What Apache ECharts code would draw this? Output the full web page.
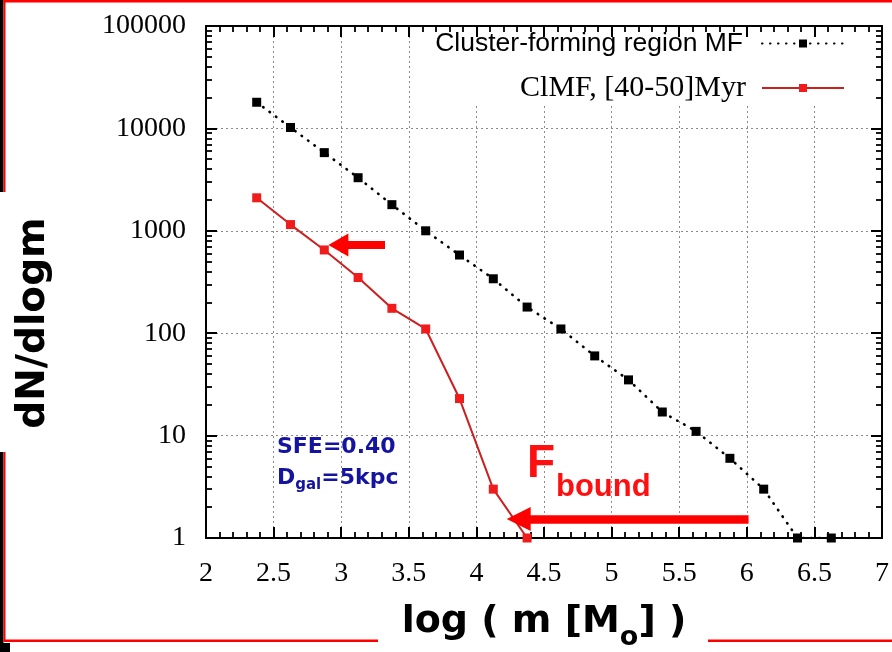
<!DOCTYPE html>
<html><head><meta charset="utf-8">
<script src="https://cdn.jsdelivr.net/npm/echarts@6/dist/echarts.min.js"></script>
<style>html,body{margin:0;padding:0;background:#fff}#c{width:892px;height:652px}</style>
</head><body><div id="c"></div>
<script>
// ---- data ----
const regionMass = [2.375, 2.625, 2.875, 3.125, 3.375, 3.625, 3.875, 4.125, 4.375, 4.625, 4.875, 5.125, 5.375, 5.625, 5.875, 6.125, 6.375, 6.625];
const regionMF   = [18000, 10200, 5800, 3300, 1800, 1000, 580, 340, 180, 110, 60, 35, 17, 11, 6, 3, 1, 1];
const clmfMass   = [2.375, 2.625, 2.875, 3.125, 3.375, 3.625, 3.875, 4.125, 4.375];
const clmfValues = [2100, 1150, 650, 350, 175, 110, 23, 3, 1];
const seriesNames = ['Cluster-forming region MF', 'ClMF, [40-50]Myr'];
const xRange = [2, 7];
const xStep = 0.5;
const yRange = [1, 100000];
// annotation arrows (data coordinates): [x start, x end, y]
const smallArrow = [3.324, 2.979, 727];
const boundArrow = [6.013, 4.313, 1.53];

const pair = (xs, ys) => xs.map((x, i) => [x, ys[i]]);
const serif = 'Liberation Serif';
const sans = 'Liberation Sans';
const tickColor = '#000';

const chart = echarts.init(document.getElementById('c'), null, {renderer: 'canvas'});
const mkTick = () => ({show: true, inside: true, length: 11, lineStyle: {color: tickColor, width: 2}});
const mkMinor = n => ({show: true, splitNumber: n, length: 6, lineStyle: {color: tickColor, width: 1.8}});
const mkGrid = () => ({show: true, lineStyle: {color: '#8a8a8a', width: 1, type: [2, 3]}});
const mkLine = () => ({show: true, onZero: false, lineStyle: {color: '#000', width: 2}});

chart.setOption({
  animation: false,
  backgroundColor: '#fff',
  grid: {left: 206, right: 10, top: 26, bottom: 114, containLabel: false, outerBoundsMode: 'none'},
  legend: {
    orient: 'vertical', align: 'right', right: 10, top: 27,
    padding: [3, 37, 3, 20], itemGap: 16, itemWidth: 82, itemHeight: 10,
    backgroundColor: '#fff', z: 4, selectedMode: false,
    data: [
      {name: seriesNames[0], textStyle: {fontFamily: sans, fontSize: 26.5, color: '#000', lineHeight: 24, padding: [0, 14, 0, 0]}},
      {name: seriesNames[1], textStyle: {fontFamily: serif, fontSize: 30, color: '#000', lineHeight: 24, padding: [0, 11, 0, 0]}}
    ]
  },
  xAxis: [{
    type: 'value', position: 'bottom', min: xRange[0], max: xRange[1], interval: xStep,
    axisLine: mkLine(), axisTick: mkTick(), minorTick: mkMinor(5),
    splitLine: mkGrid(),
    axisLabel: {fontFamily: serif, fontSize: 28, color: '#000', margin: 22},
    name: 'log ( m [M{sub|o}] )', nameLocation: 'middle', nameGap: 56,
    nameTextStyle: {fontFamily: 'DejaVu Sans', fontWeight: 'bold', fontSize: 38, color: '#000',
      rich: {sub: {fontFamily: 'DejaVu Sans', fontWeight: 'bold', fontSize: 27, color: '#000', padding: [30, 0, 0, 0]}}}
  }, {
    type: 'value', position: 'top', min: xRange[0], max: xRange[1], interval: xStep, z: 5,
    axisLine: mkLine(), axisTick: mkTick(), minorTick: mkMinor(5),
    splitLine: {show: false}, axisLabel: {show: false}
  }],
  yAxis: [{
    type: 'log', logBase: 10, min: yRange[0], max: yRange[1], position: 'left',
    axisLine: mkLine(), axisTick: mkTick(), minorTick: mkMinor(9),
    splitLine: mkGrid(),
    axisLabel: {fontFamily: serif, fontSize: 28, color: '#000', margin: 20, formatter: v => String(v)},
    name: 'dN/dlogm', nameLocation: 'middle', nameRotate: 90, nameGap: 153,
    nameTextStyle: {fontFamily: 'DejaVu Sans', fontWeight: 'bold', fontSize: 39, color: '#000', padding: [0, 82, 0, 0]}
  }, {
    type: 'log', logBase: 10, min: yRange[0], max: yRange[1], position: 'right', z: 5,
    axisLine: mkLine(), axisTick: mkTick(), minorTick: mkMinor(9),
    splitLine: {show: false}, axisLabel: {show: false}
  }],
  series: [{
    name: seriesNames[0], type: 'line', data: pair(regionMass, regionMF),
    symbol: 'rect', symbolSize: 9, itemStyle: {color: '#000'},
    lineStyle: {color: '#000', width: 2.6, type: [0.5, 7.5], cap: 'round'}, z: 3
  }, {
    name: seriesNames[1], type: 'line', data: pair(clmfMass, clmfValues),
    symbol: 'rect', symbolSize: 9, itemStyle: {color: '#f01c1c'},
    lineStyle: {color: '#cc1f1f', width: 2}, z: 3,
    markLine: {
      silent: true, animation: false, label: {show: false},
      symbol: ['none', 'triangle'],
      lineStyle: {color: '#ff0000', type: 'solid', opacity: 1},
      emphasis: {disabled: true},
      data: [
        [{coord: [smallArrow[0], smallArrow[2]], lineStyle: {width: 8}, symbolSize: [23, 20]},
         {coord: [smallArrow[1], smallArrow[2]], symbolSize: [23, 20]}],
        [{coord: [boundArrow[0], boundArrow[2]], lineStyle: {width: 8.5}, symbolSize: [24, 24]},
         {coord: [boundArrow[1], boundArrow[2]], symbolSize: [24, 24]}]
      ]
    }
  }],
  graphic: [
    // page frame
    {type: 'rect', shape: {x: 0, y: 0, width: 3.5, height: 192}, style: {fill: '#000'}, silent: true},
    {type: 'rect', shape: {x: 3.5, y: 0, width: 2, height: 192}, style: {fill: '#ff0000'}, silent: true},
    {type: 'rect', shape: {x: 0, y: 452, width: 3.5, height: 200}, style: {fill: '#000'}, silent: true},
    {type: 'rect', shape: {x: 3.5, y: 452, width: 2, height: 190}, style: {fill: '#ff0000'}, silent: true},
    {type: 'rect', shape: {x: 0, y: 643, width: 10, height: 9}, style: {fill: '#000'}, silent: true},
    {type: 'rect', shape: {x: 3.5, y: 0, width: 888.5, height: 2.5}, style: {fill: '#ff0000'}, silent: true},
    {type: 'rect', shape: {x: 3.5, y: 639.5, width: 374.5, height: 2.5}, style: {fill: '#ff0000'}, silent: true},
    {type: 'rect', shape: {x: 708, y: 639.5, width: 184, height: 2.5}, style: {fill: '#ff0000'}, silent: true},
    // annotations
    {type: 'text', x: 277, y: 447, z: 10, silent: true,
     style: {text: 'SFE=0.40', fill: '#1414a0', font: 'bold 22px "DejaVu Sans"', verticalAlign: 'middle'}},
    {type: 'text', x: 277, y: 478, z: 10, silent: true,
     style: {text: 'D{s|gal}=5kpc', fill: '#1414a0', font: 'bold 22px "DejaVu Sans"', verticalAlign: 'middle',
       rich: {s: {fill: '#1414a0', font: 'bold 15px "DejaVu Sans"', padding: [14, 0, 0, 0]}}}},
    {type: 'text', x: 527, y: 464, z: 10, silent: true,
     style: {text: 'F', fill: '#ff1010', font: 'bold 46px "Liberation Sans"', verticalAlign: 'middle'}},
    {type: 'text', x: 556, y: 487, z: 10, silent: true,
     style: {text: 'bound', fill: '#ff1010', font: 'bold 31px "Liberation Sans"', verticalAlign: 'middle'}}
  ]
});
</script></body></html>
